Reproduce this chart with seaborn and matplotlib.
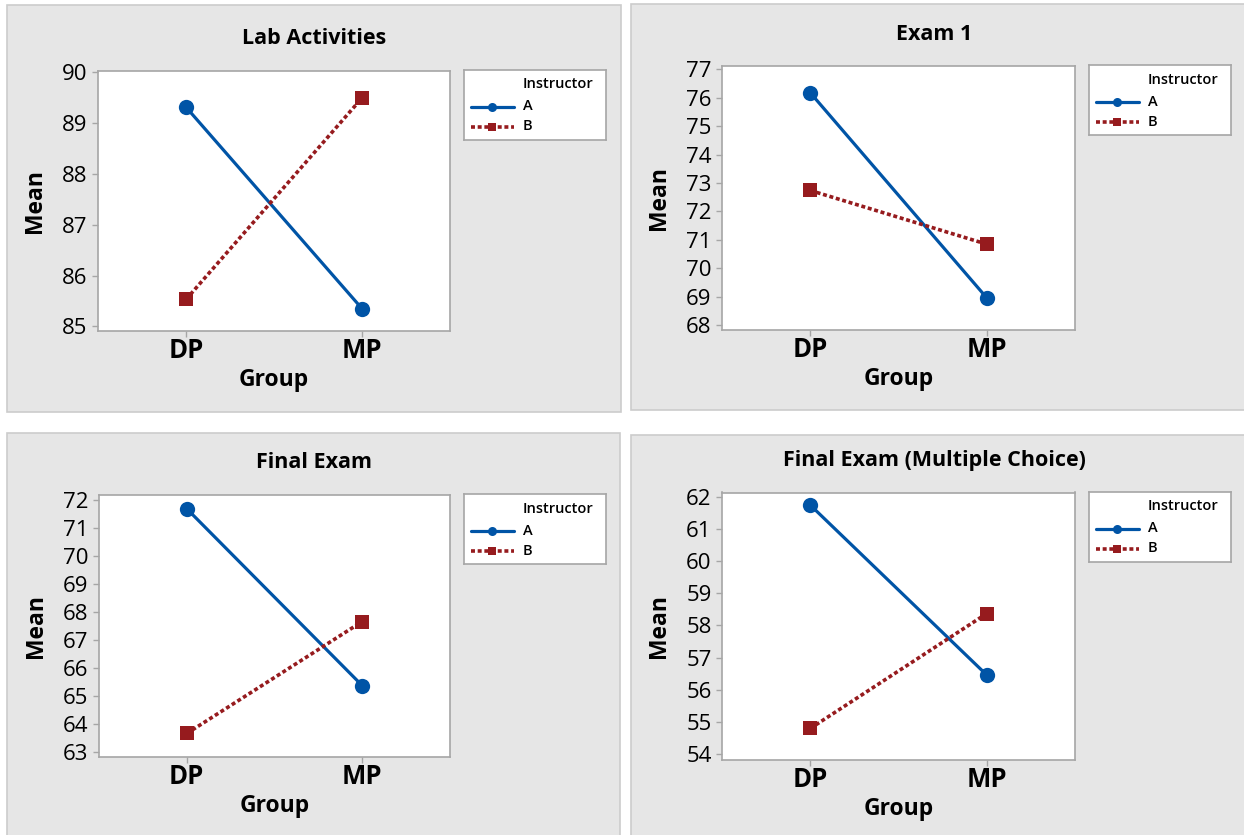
import numpy as np
import pandas as pd
import matplotlib
matplotlib.use('Agg')
import matplotlib.pyplot as plt
from matplotlib.patches import Rectangle
from matplotlib.lines import Line2D
import seaborn as sns

##data: interaction plot means
groups = ['DP', 'MP']
instructors = ['A', 'B']
titles = ['Lab Activities', 'Exam 1', 'Final Exam', 'Final Exam (Multiple Choice)']

lab_A = [89.31, 85.35]
lab_B = [85.53, 89.49]
exam1_A = [76.18, 68.96]
exam1_B = [72.74, 70.85]
final_A = [71.69, 65.37]
final_B = [63.66, 67.66]
mc_A = [61.74, 56.46]
mc_B = [54.80, 58.37]

yticks_all = [list(range(85, 91)), list(range(68, 78)), list(range(63, 73)), list(range(54, 63))]
ylims_all = [(84.91, 90.03), (67.83, 77.12), (62.82, 72.18), (53.82, 62.13)]

BLUE = '#0054a6'
RED = '#961b1e'
PANEL = '#e6e6e6'

sns.set_theme(style='white')
plt.rcParams['font.family'] = ['Open Sans', 'DejaVu Sans']
plt.rcParams['text.color'] = 'black'

W, H = 1244, 835
def fr(x0, y0, x1, y1):
    #pixel box (top-left origin) -> figure fraction rect
    return [x0 / W, 1 - y1 / H, (x1 - x0) / W, (y1 - y0) / H]

fig = plt.figure(figsize=(W / 100, H / 100), dpi=100)
fig.patch.set_facecolor('white')

##layout of each panel: gray box, plot box
panels = [
    dict(box=(7, 5, 621, 412), plot=(98, 70.5, 450, 331)),
    dict(box=(631, 4, 1250, 410), plot=(722, 66, 1075, 330)),
    dict(box=(7, 433, 620, 840), plot=(99, 495, 450, 757)),
    dict(box=(631, 435, 1250, 840), plot=(722, 492.5, 1075, 760)),
]
series = [(lab_A, lab_B), (exam1_A, exam1_B), (final_A, final_B), (mc_A, mc_B)]

for i, p in enumerate(panels):
    bx0, by0, bx1, by1 = p['box']
    fig.add_artist(Rectangle((bx0 / W, 1 - by1 / H), (bx1 - bx0) / W, (by1 - by0) / H,
                             transform=fig.transFigure, facecolor=PANEL,
                             edgecolor='#cccccc', lw=1.2, zorder=0))
    px0, py0, px1, py1 = p['plot']
    ax = fig.add_axes(fr(px0, py0, px1, py1))
    ax.set_facecolor('white')

    vA, vB = series[i]
    df = pd.DataFrame({'Group': groups * 2,
                       'Mean': list(vA) + list(vB),
                       'Instructor': ['A'] * 2 + ['B'] * 2})
    sns.lineplot(data=df, x='Group', y='Mean', hue='Instructor', style='Instructor',
                 palette={'A': BLUE, 'B': RED}, markers={'A': 'o', 'B': 's'},
                 dashes={'A': '', 'B': (1.1, 0.75)}, linewidth=2.3,
                 markersize=11, markeredgewidth=0, legend=False, ax=ax, zorder=3)
    #square a bit smaller than circle
    for ln in ax.lines:
        if ln.get_marker() == 's':
            ln.set_markersize(9.5)
            ln.set_linewidth(2.6)

    ax.set_xlim(-0.5, 1.5)
    ax.set_ylim(*ylims_all[i])
    ax.set_yticks(yticks_all[i])
    ax.set_xticks([0, 1])
    ax.set_xticklabels(groups)
    ax.set_xlabel('')
    ax.set_ylabel('')
    for s in ax.spines.values():
        s.set_color('#a6a6a6')
        s.set_linewidth(1.2)
    ax.tick_params(axis='y', length=4, width=1, color='#a6a6a6', pad=3.5,
                   labelsize=16, labelcolor='black', left=True)
    ax.tick_params(axis='x', length=4, width=1, color='#a6a6a6', pad=0.5,
                   labelsize=18.5, labelcolor='black', bottom=True)
    for t in ax.get_xticklabels():
        t.set_fontweight('bold')

    ##titles and axis labels
    fig.text(((bx0 + min(bx1, W)) / 2 + (0 if bx1 <= W else -3)) / W, 1 - (py0 - 32) / H,
             titles[i], ha='center', va='center', fontsize=15.5, fontweight='bold')
    fig.text((px0 - 63) / W, 1 - ((py0 + py1) / 2) / H, 'Mean', rotation=90,
             ha='center', va='center', fontsize=16.5, fontweight='bold')
    fig.text(((px0 + px1) / 2) / W, 1 - (py1 + 49) / H, 'Group',
             ha='center', va='center', fontsize=16.5, fontweight='bold')

    ##legend box drawn on its own little axes
    lx0, ly0 = px1 + 14, py0 - 1
    lg = fig.add_axes(fr(lx0, ly0, lx0 + 142, ly0 + 70))
    lg.set_xlim(0, 142)
    lg.set_ylim(70, 0)
    lg.set_xticks([])
    lg.set_yticks([])
    lg.set_facecolor('white')
    for s in lg.spines.values():
        s.set_color('#a6a6a6')
        s.set_linewidth(1.2)
    lg.text(59, 15, 'Instructor', ha='left', va='center', fontsize=10.5, fontweight='semibold')
    lg.add_line(Line2D([7, 50], [37, 37], color=BLUE, lw=2.3))
    lg.plot([28], [37], marker='o', color=BLUE, markersize=6.5, markeredgewidth=0)
    lg.text(59, 37, 'A', ha='left', va='center', fontsize=10.5, fontweight='semibold')
    lg.add_line(Line2D([7, 50], [57, 57], color=RED, lw=2.6, dashes=(1.1, 0.75)))
    lg.plot([28], [57], marker='s', color=RED, markersize=6, markeredgewidth=0)
    lg.text(59, 57, 'B', ha='left', va='center', fontsize=10.5, fontweight='semibold')

fig.savefig('out.png', dpi=100, facecolor='white')
